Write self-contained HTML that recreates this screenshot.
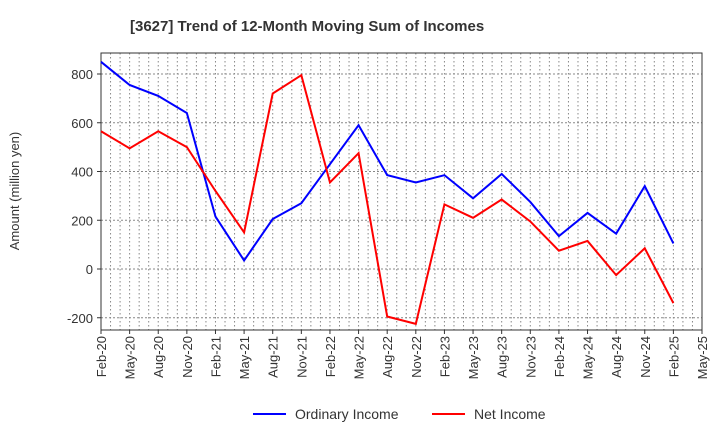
<!DOCTYPE html>
<html><head><meta charset="utf-8"><style>
body{margin:0;background:#fff;}
svg text{font-family:"Liberation Sans",sans-serif;}
</style></head><body>
<svg width="720" height="440" xmlns="http://www.w3.org/2000/svg">
<text x="130" y="31" text-anchor="start" font-size="15" font-weight="bold" fill="#333">[3627]  Trend of 12-Month Moving Sum of Incomes</text>
<g id="grid"></g>
<g id="axes"></g>
<g id="series"></g>
<text transform="translate(19,191) rotate(-90)" text-anchor="middle" font-size="13" fill="#333">Amount (million yen)</text>
<g>
<line x1="253" y1="414" x2="286" y2="414" stroke="#0000ff" stroke-width="2"/>
<text x="295" y="419" font-size="14" fill="#333">Ordinary Income</text>
<line x1="432" y1="414" x2="465" y2="414" stroke="#ff0000" stroke-width="2"/>
<text x="474" y="419" font-size="14" fill="#333">Net Income</text>
</g>
</svg>
<script>
const xLabels=["Feb-20","May-20","Aug-20","Nov-20","Feb-21","May-21","Aug-21","Nov-21","Feb-22","May-22","Aug-22","Nov-22","Feb-23","May-23","Aug-23","Nov-23","Feb-24","May-24","Aug-24","Nov-24","Feb-25","May-25"];
const yTicks=[-200,0,200,400,600,800];
const ordinary=[850,755,710,640,215,35,205,270,430,590,385,355,385,290,390,275,135,230,145,340,105];
const netIncome=[565,495,565,500,320,150,720,795,355,475,-195,-225,265,210,285,195,75,115,-25,85,-140];
const L=101,R=702,T=53,B=330;
const NS="http://www.w3.org/2000/svg";
const xs=i=>L+(R-L)*i/(xLabels.length-1);
const ys=v=>269-v*(269-74)/800;
function mk(tag,attrs,parent){const e=document.createElementNS(NS,tag);for(const k in attrs)e.setAttribute(k,attrs[k]);parent.appendChild(e);return e;}
const grid=document.getElementById('grid'),axes=document.getElementById('axes'),series=document.getElementById('series');
const nMonths=(xLabels.length-1)*3;
for(let m=1;m<nMonths;m++){const x=L+(R-L)*m/nMonths;const g=mk('line',{x1:x,x2:x,y1:T,y2:B,stroke:'#888','stroke-dasharray':'1.5,2.5','stroke-width':1},grid);}
yTicks.forEach(v=>{const y=ys(v);const g=mk('line',{x1:L,x2:R,y1:y,y2:y,stroke:'#888','stroke-dasharray':'2,2','stroke-width':1},grid);
const t=mk('text',{x:L-8,y:y+5,'text-anchor':'end','font-size':13,fill:'#333'},axes);t.textContent=v;
const tk=mk('line',{x1:L-4,x2:L,y1:y,y2:y,stroke:'#333'},axes);});
const fr=mk('rect',{x:L,y:T,width:R-L,height:B-T,fill:'none',stroke:'#333','stroke-width':1},axes);
xLabels.forEach((s,i)=>{const x=xs(i);const t=mk('text',{transform:`translate(${x+5},${B+6}) rotate(-90)`,'text-anchor':'end','font-size':13,fill:'#333'},axes);t.textContent=s;
const tk=mk('line',{x1:x,x2:x,y1:B,y2:B+4,stroke:'#333'},axes);});
function line(arr,color,name){const p=mk('polyline',{points:arr.map((v,i)=>xs(i)+','+ys(v)).join(' '),fill:'none',stroke:color,'stroke-width':2,'stroke-linejoin':'miter'},series);}
line(ordinary,'#0000ff','ordinary-income-line');
line(netIncome,'#ff0000','net-income-line');
</script>
</body></html>
